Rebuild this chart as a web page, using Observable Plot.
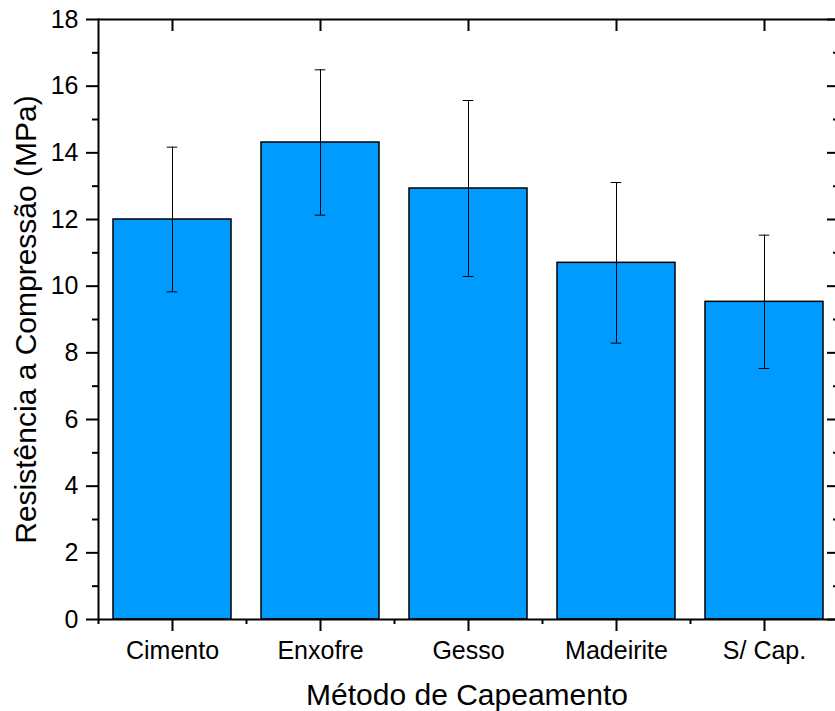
<!DOCTYPE html>
<html>
<head>
<meta charset="utf-8">
<script src="https://cdn.jsdelivr.net/npm/d3@7"></script>
<script src="https://cdn.jsdelivr.net/npm/@observablehq/plot@0.6"></script>
<style>
  html, body { margin: 0; padding: 0; background: #fff; }
  #chart svg { display: block; }
</style>
</head>
<body>
<div id="chart"></div>
<script>
const categories = ["Cimento", "Enxofre", "Gesso", "Madeirite", "S/ Cap."];
const means = [12.0, 14.31, 12.93, 10.7, 9.53];
const errors = [2.17, 2.18, 2.64, 2.41, 2.0];
const yMajorTicks = [0, 2, 4, 6, 8, 10, 12, 14, 16, 18];
const yMinorTicks = [1, 3, 5, 7, 9, 11, 13, 15, 17];
const xTitle = "Método de Capeamento";
const yTitle = "Resistência a Compressão (MPa)";

const data = categories.map((c, i) => ({cat: c, mean: means[i], err: errors[i]}));

const W = 835, H = 711;
const mL = 98, mT = 19, mB = 92, mR = 0;
const xRange = [98, 838];
const step = (xRange[1] - xRange[0]) / categories.length;
const bandwidth = step * 0.8;
const capWidth = 11;
const font = "'Liberation Sans', Arial, Helvetica, sans-serif";

const chart = Plot.plot({
  width: W,
  height: H,
  marginLeft: mL,
  marginRight: mR,
  marginTop: mT,
  marginBottom: mB,
  style: {fontFamily: font, background: "#fff", color: "#000"},
  x: {domain: categories, range: xRange, paddingInner: 0.2, paddingOuter: 0.1},
  y: {domain: [0, 18]},
  marks: [
    Plot.barY(data, {x: "cat", y: "mean", fill: "#009BFF", stroke: "#000", strokeWidth: 1.5}),
    Plot.ruleX(data, {x: "cat", y1: d => d.mean - d.err, y2: d => d.mean + d.err, stroke: "#000", strokeWidth: 1}),
    Plot.tickY(data, {x: "cat", y: d => d.mean + d.err, stroke: "#000", strokeWidth: 1,
      insetLeft: (bandwidth - capWidth) / 2, insetRight: (bandwidth - capWidth) / 2}),
    Plot.tickY(data, {x: "cat", y: d => d.mean - d.err, stroke: "#000", strokeWidth: 1,
      insetLeft: (bandwidth - capWidth) / 2, insetRight: (bandwidth - capWidth) / 2}),
    // frame: bottom, top, left
    Plot.ruleY([0, 18], {stroke: "#000", strokeWidth: 2}),
    Plot.frame({anchor: "left", stroke: "#000", strokeWidth: 2}),
    // left axis
    Plot.axisY(yMajorTicks, {anchor: "left", tickSize: 12, tickPadding: 8, fontSize: 25, strokeWidth: 2, label: null}),
    Plot.axisY(yMinorTicks, {anchor: "left", tickSize: 6, text: null, strokeWidth: 2, label: null}),
    // right axis (inward ticks)
    Plot.axisY(yMajorTicks, {anchor: "right", tickSize: 12, dx: -9, text: null, strokeWidth: 2, label: null}),
    Plot.axisY(yMinorTicks, {anchor: "right", tickSize: 6, dx: -3, text: null, strokeWidth: 2, label: null}),
    // bottom axis
    Plot.axisX(categories, {anchor: "bottom", tickSize: 12, tickPadding: 10, fontSize: 25, strokeWidth: 2, label: null}),
    Plot.axisX(categories, {anchor: "bottom", tickSize: 5, dx: -step / 2, text: null, strokeWidth: 2, label: null}),
    Plot.axisX(categories.slice(-1), {anchor: "bottom", tickSize: 5, dx: step / 2, text: null, strokeWidth: 2, label: null}),
    // top axis (inward ticks)
    Plot.axisX(categories, {anchor: "top", tickSize: 11, dy: 11, text: null, strokeWidth: 2, label: null}),
    // axis titles
    Plot.text([xTitle], {frameAnchor: "bottom", lineAnchor: "top", dy: 64, fontSize: 30, fill: "#000"}),
    Plot.text([yTitle], {frameAnchor: "left", textAnchor: "middle", lineAnchor: "top", rotate: -90, dx: -84, fontSize: 30, fill: "#000"})
  ]
});
document.getElementById("chart").appendChild(chart);
</script>
</body>
</html>
